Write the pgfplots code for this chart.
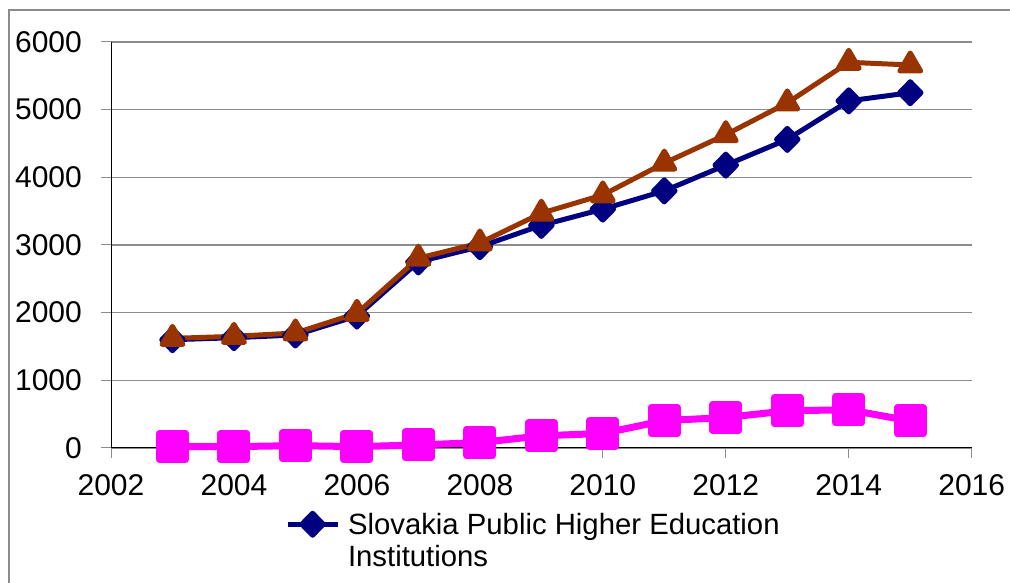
\documentclass[border=0pt]{standalone}
\usepackage{fontspec}
\setmainfont{Liberation Sans}
\usepackage{pgfplots}
\pgfplotsset{compat=1.18}
\definecolor{navyb}{HTML}{000080}
\definecolor{rust}{HTML}{993300}
\definecolor{mag}{HTML}{FF00FF}
\definecolor{gridg}{HTML}{8C8C8C}
\begin{document}
\fontsize{30bp}{32bp}\selectfont
\begin{tikzpicture}[x=1bp,y=1bp]
\useasboundingbox (0,0) rectangle (1010,583);
\draw[gridg, line width=1.5bp] (9,-20) -- (9,573) -- (1030,573);
\begin{axis}[
 at={(111bp,135bp)}, anchor=south west,
 scale only axis, width=860.7bp, height=406bp,
 xmin=2002, xmax=2016, ymin=0, ymax=6000,
 xtick={2002,2004,...,2016}, ytick={0,1000,...,6000},
 axis x line*=bottom, axis y line*=left,
 axis line style={black, line width=1bp, -},
 tick align=outside, major tick length=10bp,
 tick style={gridg, line width=1bp},
 ymajorgrids, grid style={gridg, line width=1.5bp},
 /pgf/number format/assume math mode=true,
 /pgf/number format/1000 sep={},
 ticklabel style={font=\fontsize{30bp}{32bp}\selectfont},
 yticklabel style={xshift=-9bp},
 xticklabel style={yshift=-6bp},
 clip=false,
 legend style={at={(0.202,-0.153)}, anchor=north west, draw=none, fill=none,
   font=\fontsize{29.3bp}{32bp}\selectfont, inner sep=0pt},
 legend image code/.code={\draw[mark repeat=2, mark phase=2, #1] plot coordinates {(0bp,0bp) (25bp,0bp) (50bp,0bp)};},
]
\addplot[navyb, line width=5bp, line join=round, mark=diamond*, mark size=11bp, mark options={xscale=1.3, solid}]
 coordinates {(2003,1600) (2004,1630) (2005,1670) (2006,1950) (2007,2750) (2008,2975) (2009,3290) (2010,3530) (2011,3800) (2012,4180) (2013,4560) (2014,5130) (2015,5250)};
\addlegendentry{\raisebox{-3bp}{\begin{tabular}[t]{@{\hspace{6bp}}l@{}}Slovakia Public Higher Education\\Institutions\end{tabular}}}
\addplot[mag, line width=7bp, line join=round, mark=square*, mark size=13bp, forget plot]
 coordinates {(2003,20) (2004,20) (2005,35) (2006,20) (2007,45) (2008,80) (2009,180) (2010,215) (2011,405) (2012,450) (2013,550) (2014,565) (2015,400)};
\addplot[rust, line width=5bp, line join=round, mark=triangle*, mark size=12bp, forget plot]
 coordinates {(2003,1620) (2004,1650) (2005,1700) (2006,1990) (2007,2805) (2008,3030) (2009,3470) (2010,3740) (2011,4210) (2012,4630) (2013,5100) (2014,5700) (2015,5660)};
\end{axis}
\end{tikzpicture}
\end{document}
